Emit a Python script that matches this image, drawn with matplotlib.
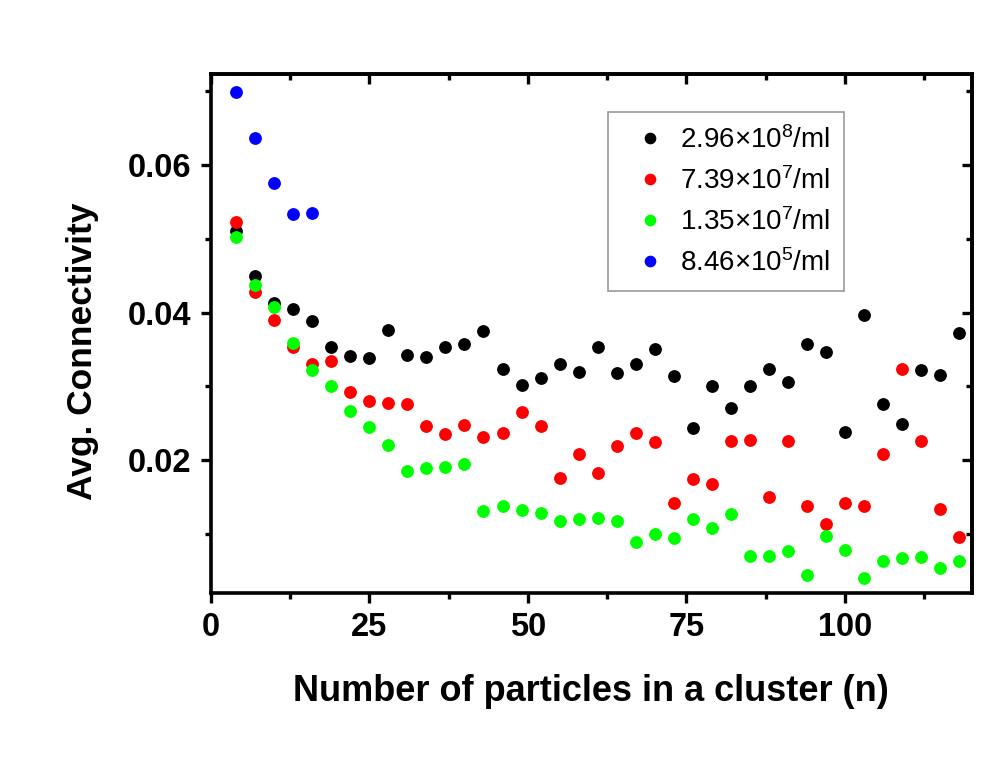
import matplotlib
matplotlib.use("Agg")
import matplotlib.pyplot as plt
from matplotlib.ticker import MultipleLocator

plt.rcParams['font.family'] = ['Liberation Sans', 'DejaVu Sans']
plt.rcParams['mathtext.fontset'] = 'custom'
plt.rcParams['mathtext.rm'] = 'Liberation Sans'
plt.rcParams['mathtext.it'] = 'Liberation Sans:italic'
plt.rcParams['mathtext.bf'] = 'Liberation Sans:bold'

# Cluster sizes (number of particles)
n_values = [4, 7, 10, 13, 16, 19, 22, 25, 28, 31, 34, 37, 40, 43, 46, 49, 52,
            55, 58, 61, 64, 67, 70, 73, 76, 79, 82, 85, 88, 91, 94, 97, 100,
            103, 106, 109, 112, 115, 118]

conn_296e8 = [0.0511, 0.0449, 0.0413, 0.0405, 0.0389, 0.0354, 0.0341, 0.0339,
              0.0377, 0.0342, 0.0340, 0.0354, 0.0358, 0.0375, 0.0324, 0.0302,
              0.0311, 0.0330, 0.0320, 0.0353, 0.0318, 0.0330, 0.0351, 0.0314,
              0.0244, 0.0301, 0.0271, 0.0301, 0.0323, 0.0306, 0.0358, 0.0346,
              0.0238, 0.0397, 0.0276, 0.0249, 0.0322, 0.0316, 0.0372]

conn_739e7 = [0.0522, 0.0428, 0.0390, 0.0353, 0.0330, 0.0335, 0.0293, 0.0280,
              0.0278, 0.0276, 0.0246, 0.0236, 0.0248, 0.0232, 0.0237, 0.0265,
              0.0247, 0.0176, 0.0208, 0.0183, 0.0219, 0.0237, 0.0225, 0.0142,
              0.0175, 0.0168, 0.0226, 0.0228, 0.0150, 0.0226, 0.0138, 0.0114,
              0.0142, 0.0138, 0.0209, 0.0323, 0.0226, 0.0134, 0.0096]

conn_135e7 = [0.0502, 0.0437, 0.0407, 0.0359, 0.0322, 0.0301, 0.0267, 0.0245,
              0.0221, 0.0186, 0.0190, 0.0191, 0.0195, 0.0131, 0.0138, 0.0133,
              0.0128, 0.0118, 0.0121, 0.0122, 0.0118, 0.0089, 0.0100, 0.0095,
              0.0120, 0.0109, 0.0127, 0.0071, 0.0070, 0.0077, 0.0045, 0.0097,
              0.0078, 0.0041, 0.0064, 0.0068, 0.0069, 0.0054, 0.0063]

n_846e5 = [4, 7, 10, 13, 16]
conn_846e5 = [0.0698, 0.0636, 0.0575, 0.0533, 0.0535]

series = [
    (n_values, conn_296e8, '#000000', r'2.96$\times$10$^{8}$/ml'),
    (n_values, conn_739e7, '#ff0000', r'7.39$\times$10$^{7}$/ml'),
    (n_values, conn_135e7, '#00ff00', r'1.35$\times$10$^{7}$/ml'),
    (n_846e5, conn_846e5, '#0000ff', r'8.46$\times$10$^{5}$/ml'),
]

fig = plt.figure(figsize=(10.04, 7.73), dpi=100)
ax = fig.add_axes([0.2099, 0.2335, 0.7581, 0.6708])

for xs, ys, color, label in series:
    ax.plot(xs, ys, linestyle='none', marker='o', markersize=8.2,
            markerfacecolor=color, markeredgecolor=color, label=label)

ax.set_xlim(0, 120)
ax.set_ylim(0.0021, 0.0723)
ax.xaxis.set_major_locator(MultipleLocator(25))
ax.xaxis.set_minor_locator(MultipleLocator(12.5))
ax.yaxis.set_minor_locator(MultipleLocator(0.01))
ax.set_yticks([0.02, 0.04, 0.06])
ax.set_yticklabels(['0.02', '0.04', '0.06'])

for side in ax.spines.values():
    side.set_linewidth(2.6)

ax.tick_params(which='both', direction='out', width=2.4,
               labelsize=23.5, pad=7)
ax.tick_params(which='major', length=7)
ax.tick_params(which='minor', length=4.5)
for lab in ax.get_xticklabels() + ax.get_yticklabels():
    lab.set_fontweight('bold')

# Inward ticks on the top and right frame edges
top = ax.secondary_xaxis('top')
top.set_xticks(ax.get_xticks())
top.xaxis.set_minor_locator(MultipleLocator(12.5))
top.tick_params(which='both', direction='in', width=2.4, labeltop=False)
top.tick_params(which='major', length=7)
top.tick_params(which='minor', length=4.5)
top.spines['top'].set_linewidth(2.6)
right = ax.secondary_yaxis('right')
right.set_yticks([0.02, 0.04, 0.06])
right.yaxis.set_minor_locator(MultipleLocator(0.01))
right.tick_params(which='both', direction='in', width=2.4, labelright=False)
right.tick_params(which='major', length=7)
right.tick_params(which='minor', length=4.5)
right.spines['right'].set_linewidth(2.6)

ax.set_xlabel('Number of particles in a cluster (n)', fontsize=26,
              fontweight='bold', labelpad=22)
ax.set_ylabel('Avg. Connectivity', fontsize=25.5, fontweight='bold')
ax.yaxis.set_label_coords(-0.147, 0.466)

leg = ax.legend(loc='upper right', bbox_to_anchor=(0.8324, 0.9267),
                fontsize=20, frameon=True, fancybox=False,
                edgecolor='#808080', handletextpad=0.05, handlelength=2.05,
                labelspacing=0.48, borderpad=0.5, markerscale=0.9,
                borderaxespad=0)
leg.get_frame().set_linewidth(1.2)

fig.savefig('out.png', dpi=100)
